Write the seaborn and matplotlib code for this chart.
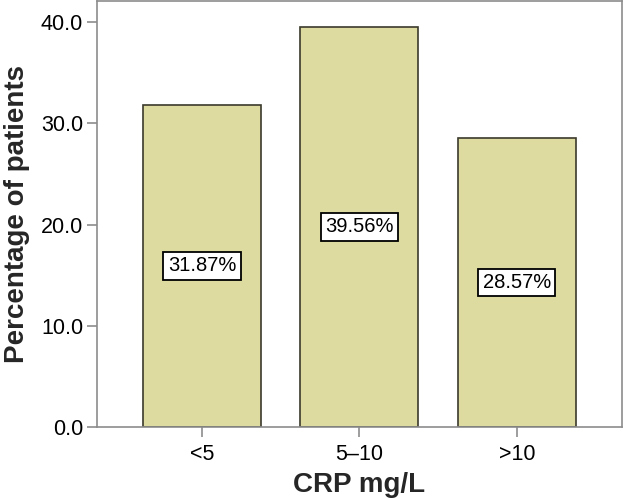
import pandas as pd
import matplotlib.pyplot as plt
import seaborn as sns

categories = ['<5', '5\u201310', '>10']
percentages = [31.87, 39.56, 28.57]

df = pd.DataFrame({'crp': categories, 'pct': percentages})

sns.set_theme(style="white")
plt.rcParams['font.family'] = ['Liberation Sans', 'DejaVu Sans']

fig = plt.figure(figsize=(6.32, 4.98), dpi=100)
ax = fig.add_axes([0.1535, 0.1426, 0.8305, 0.8554])

sns.barplot(x='crp', y='pct', data=df, color='#dedba0', saturation=1,
            width=0.75, edgecolor='#3b3a2c', linewidth=1.2, ax=ax)

for i, v in enumerate(percentages):
    ax.text(i, v / 2, f"{v:.2f}%", ha='center', va='center', fontsize=14.5,
            color='black',
            bbox=dict(boxstyle='square,pad=0.22', facecolor='white',
                      edgecolor='black', linewidth=1.3))

ax.set_xlim(-0.667, 2.667)
ax.set_ylim(0, 42.1)
ax.set_yticks([0, 10, 20, 30, 40])
ax.set_yticklabels([f"{t:.1f}" for t in [0, 10, 20, 30, 40]])

for s in ax.spines.values():
    s.set_color('#8c8c8c')
    s.set_linewidth(1.2)

ax.tick_params(axis='both', which='both', length=7, width=1.2, color='#8c8c8c',
               labelsize=15.5, labelcolor='black', pad=3, direction='out')
ax.tick_params(axis='x', length=7, pad=5)
ax.yaxis.set_ticks_position('left')
ax.xaxis.set_ticks_position('bottom')

ax.set_xlabel("CRP mg/L", fontsize=20, fontweight='bold', labelpad=5)
ax.set_ylabel("Percentage of patients", fontsize=20, fontweight='bold', labelpad=8)

fig.savefig('out.png', dpi=100)
plt.close(fig)
